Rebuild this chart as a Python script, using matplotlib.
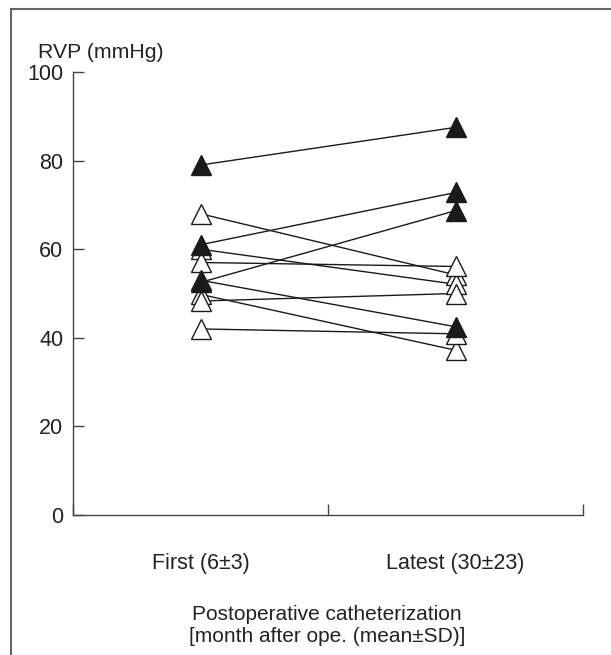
import matplotlib
matplotlib.use("Agg")
import matplotlib.pyplot as plt
from matplotlib.lines import Line2D

plt.rcParams['font.family'] = ['Liberation Sans', 'DejaVu Sans']

groups = ["First (6\u00b13)", "Latest (30\u00b123)"]
first = [79, 68, 61, 60, 57, 53, 52.5, 49.8, 48.3, 42]
latest = [87.5, 54.2, 72.8, 52.1, 56.1, 42.5, 68.7, 37.2, 50.0, 40.9]
first_filled = [True, False, True, False, False, False, True, False, False, False]
latest_filled = [True, False, True, False, False, True, True, False, False, False]
yticks = [0, 20, 40, 60, 80, 100]

W, H = 611, 655
fig = plt.figure(figsize=(W / 100, H / 100), dpi=100)
ax = fig.add_axes([73 / W, 1 - 515 / H, (583 - 73) / W, (515 - 72) / H])

xpos = [0.5, 1.5]
lc = '#1a1a1a'
for a, b in zip(first, latest):
    ax.plot(xpos, [a, b], color=lc, lw=1.0, zorder=2)

def draw(x, vals, filled):
    for v, f in zip(vals, filled):
        ax.plot([x], [v], marker='^', ms=14.5, mew=1.0,
                mfc=lc if f else 'white', mec=lc, zorder=3, ls='none')

# open markers first, then filled on top
draw(xpos[0], [v for v, f in zip(first, first_filled) if not f], [False] * first_filled.count(False))
draw(xpos[1], [v for v, f in zip(latest, latest_filled) if not f], [False] * latest_filled.count(False))
draw(xpos[0], [v for v, f in zip(first, first_filled) if f], [True] * first_filled.count(True))
draw(xpos[1], [v for v, f in zip(latest, latest_filled) if f], [True] * latest_filled.count(True))

ax.set_xlim(0, 2)
ax.set_ylim(0, 100)
for s in ['top', 'right']:
    ax.spines[s].set_visible(False)
for s in ['left', 'bottom']:
    ax.spines[s].set_color('#444444')
    ax.spines[s].set_linewidth(1.0)

ax.set_yticks(yticks)
ax.set_yticklabels([str(t) for t in yticks])
ax.tick_params(axis='y', direction='in', length=8, width=1.0, color='#444444',
               labelsize=15.5, pad=7, labelcolor='#222222')
ax.set_xticks([0, 1, 2])
ax.set_xticklabels(['', '', ''])
ax.tick_params(axis='x', which='major', direction='in', length=8, width=1.0, color='#444444')
ax.set_xticks(xpos, minor=True)
ax.set_xticklabels(groups, minor=True)
ax.tick_params(axis='x', which='minor', length=0, labelsize=15.5, pad=27, labelcolor='#222222')

fig.text(38 / W, 1 - 52 / H, "RVP (mmHg)", fontsize=15.3, ha='left', va='center', color='#222222')
fig.text(327 / W, 1 - 626 / H, "Postoperative catheterization\n[month after ope. (mean\u00b1SD)]",
         fontsize=15, ha='center', va='center', color='#222222', linespacing=1.2)

# outer frame (left and top edges visible)
fig.add_artist(Line2D([11 / W, 11 / W], [0, 1 - 9 / H], transform=fig.transFigure,
                      color='#666666', lw=1.5))
fig.add_artist(Line2D([11 / W, 1], [1 - 9 / H, 1 - 9 / H], transform=fig.transFigure,
                      color='#666666', lw=1.5))

fig.savefig("out.png", dpi=100)
